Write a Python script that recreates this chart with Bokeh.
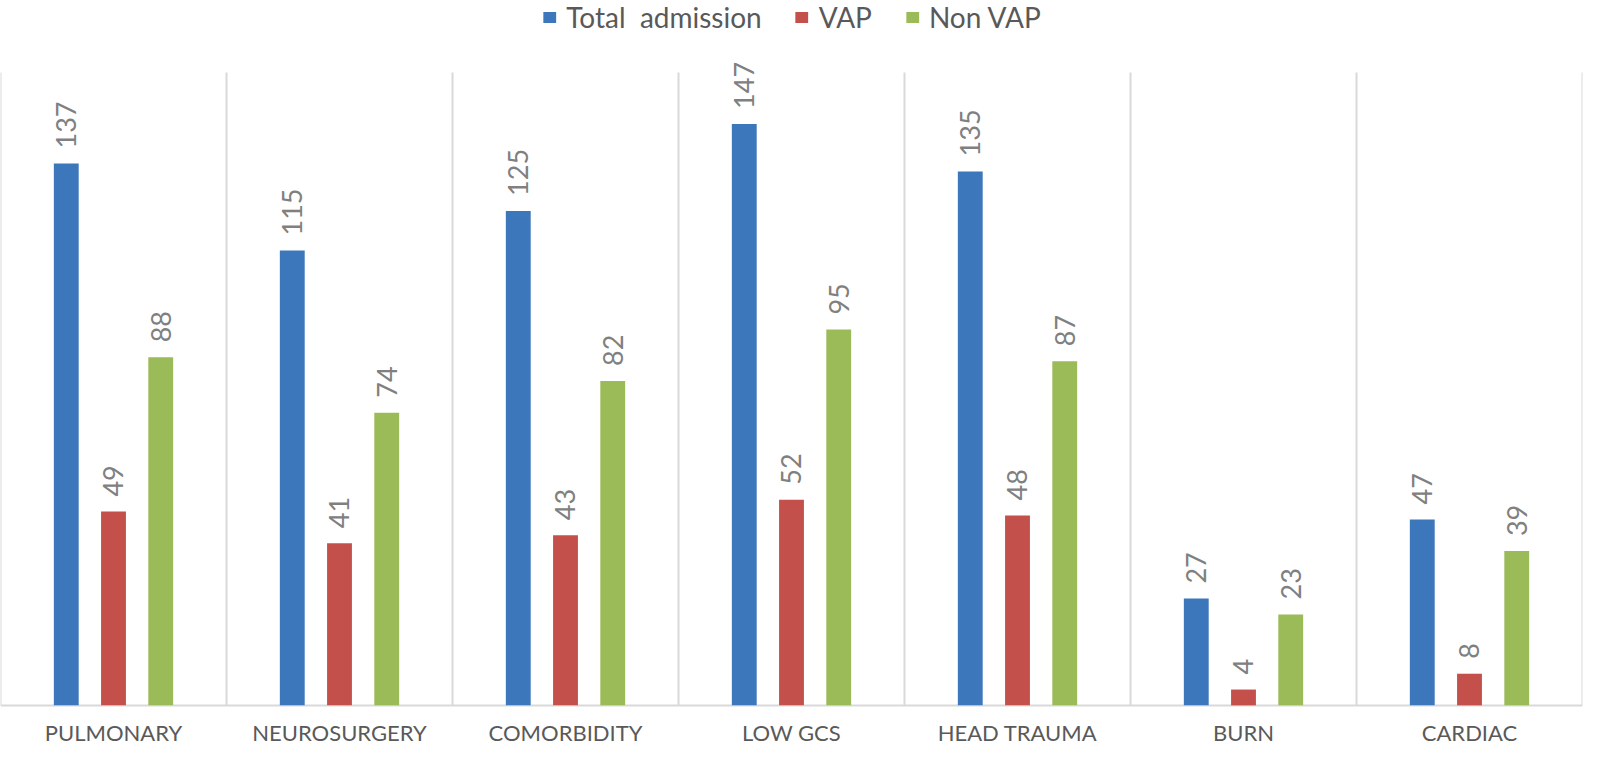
from bokeh.plotting import figure
from bokeh.models import (ColumnDataSource, FactorRange, Range1d, LabelSet,
                          Legend, LegendItem)
from bokeh.core.properties import value
from bokeh.transform import dodge
from bokeh.embed import file_html
from bokeh.resources import INLINE

categories = ["PULMONARY", "NEUROSURGERY", "COMORBIDITY", "LOW GCS",
              "HEAD TRAUMA", "BURN", "CARDIAC"]
total_admission = [137, 115, 125, 147, 135, 27, 47]
vap = [49, 41, 43, 52, 48, 4, 8]
non_vap = [88, 74, 82, 95, 87, 23, 39]

series_names = ["Total  admission", "VAP", "Non VAP"]
series_values = [total_admission, vap, non_vap]
colors = ["#3b77ba", "#c4504c", "#9bbb59"]
offsets = [-0.209, 0.0, 0.209]

axis_max = 160      # top of the category separators (value axis maximum)
view_top = 178.2    # extra room above the plot area for the legend
view_bottom = -10.4 # room below the baseline for the category labels

FONT = "Lato"
GRID = "#d9d9d9"

p = figure(x_range=FactorRange(*categories, range_padding=0),
           y_range=Range1d(view_bottom, view_top),
           width=1584, height=746,
           output_backend="svg", toolbar_location=None,
           x_axis_location=None, y_axis_location=None,
           min_border_left=0, min_border_right=2,
           min_border_top=0, min_border_bottom=0)

p.outline_line_color = None
p.xgrid.visible = False
p.ygrid.visible = False

# category separators (left edge of each category, plus the right edge of the last)
sep = ColumnDataSource(dict(cat=categories, y0=[0] * len(categories),
                            y1=[axis_max] * len(categories)))
p.segment(x0=dodge("cat", -0.5, range=p.x_range), y0="y0",
          x1=dodge("cat", -0.5, range=p.x_range), y1="y1",
          source=sep, line_color=GRID, line_width=2)
sep_end = ColumnDataSource(dict(cat=categories[-1:], y0=[0], y1=[axis_max]))
p.segment(x0=dodge("cat", 0.5, range=p.x_range), y0="y0",
          x1=dodge("cat", 0.5, range=p.x_range), y1="y1",
          source=sep_end, line_color=GRID, line_width=2)

# baseline (category axis line)
p.hspan(y=[0], line_color=GRID, line_width=2)

items = []
for name, vals, col, off in zip(series_names, series_values, colors, offsets):
    src = ColumnDataSource(dict(cat=categories, val=vals,
                                txt=[str(v) for v in vals]))
    r = p.vbar(x=dodge("cat", off, range=p.x_range), top="val", width=0.11,
               source=src, fill_color=col, line_color=None)
    items.append(LegendItem(label=name, renderers=[r]))
    lbl = LabelSet(x=dodge("cat", off, range=p.x_range), y="val", text="txt",
                   source=src, angle=1.5708, text_align="left",
                   text_baseline="middle", y_offset=15,
                   text_font=value(FONT), text_font_size=value("27px"),
                   text_color=value("#808080"))
    p.add_layout(lbl)

# category labels
cat_src = ColumnDataSource(dict(cat=categories, y=[0] * len(categories)))
p.add_layout(LabelSet(x="cat", y="y", text="cat", source=cat_src,
                      text_align="center", text_baseline="middle",
                      y_offset=-27, text_font=value(FONT),
                      text_font_size=value("22px"),
                      text_color=value("#595959")))

legend = Legend(items=items, orientation="horizontal", location="top_center",
                glyph_width=16, glyph_height=14, label_standoff=9,
                spacing=32, padding=0, margin=0,
                border_line_color=None, background_fill_alpha=0,
                label_text_font=FONT, label_text_font_size="28px",
                label_text_color="#595959")
p.add_layout(legend)

open("out.html", "w").write(file_html(p, INLINE))
